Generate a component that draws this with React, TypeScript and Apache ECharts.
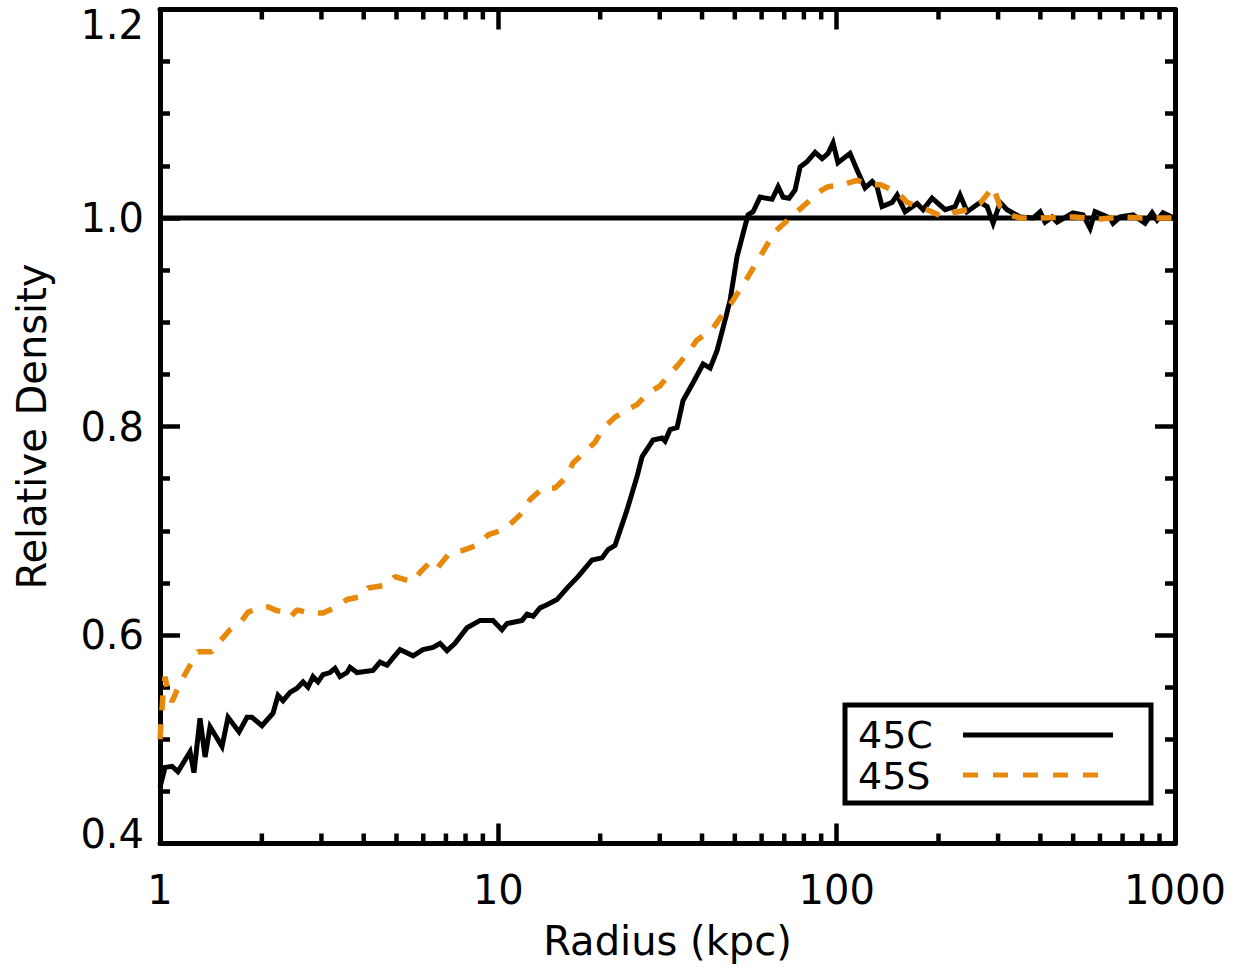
import React, { useEffect, useRef } from "react";
import * as echarts from "echarts";

const X_MIN = 1;
const X_MAX = 1000;
const Y_MIN = 0.4;
const Y_MAX = 1.2;
const Y_STEP = 0.2;

const X_TITLE = "Radius (kpc)";
const Y_TITLE = "Relative Density";
const SERIES_NAMES = ["45C", "45S"];

const MINOR_X = [2, 3, 4, 5, 6, 7, 8, 9, 20, 30, 40, 50, 60, 70, 80, 90, 200, 300, 400, 500, 600, 700, 800, 900];

const REF_LINE: [number, number][] = [[1, 1.0], [1000, 1.0]];

const S45C: [number, number][] = [
  [1.0, 0.454], [1.035, 0.473], [1.085, 0.474], [1.13, 0.469], [1.227, 0.488], [1.26, 0.468],
  [1.313, 0.52], [1.359, 0.483], [1.406, 0.512], [1.525, 0.493], [1.589, 0.521], [1.713, 0.507],
  [1.808, 0.521], [1.87, 0.521], [2.002, 0.513], [2.158, 0.525], [2.233, 0.542], [2.31, 0.537],
  [2.423, 0.545], [2.541, 0.549], [2.647, 0.555], [2.738, 0.55], [2.833, 0.56], [2.931, 0.555],
  [3.032, 0.562], [3.18, 0.564], [3.291, 0.568], [3.405, 0.56], [3.571, 0.564], [3.645, 0.569],
  [3.822, 0.564], [4.263, 0.566], [4.47, 0.574], [4.688, 0.571], [4.884, 0.578], [5.123, 0.586],
  [5.596, 0.58], [5.99, 0.586], [6.412, 0.588], [6.725, 0.592], [7.054, 0.585], [7.447, 0.592],
  [8.081, 0.607], [8.832, 0.614], [9.645, 0.614], [10.25, 0.605], [10.61, 0.611], [11.75, 0.614],
  [12.16, 0.62], [12.67, 0.618], [13.28, 0.626], [13.93, 0.629], [14.91, 0.634], [15.96, 0.645],
  [17.2, 0.656], [18.92, 0.672], [20.26, 0.674], [21.1, 0.682], [22.13, 0.686], [24.01, 0.72],
  [25.7, 0.752], [26.6, 0.771], [28.66, 0.787], [30.47, 0.789], [31.1, 0.786], [32.18, 0.797],
  [33.75, 0.799], [35.16, 0.825], [37.63, 0.842], [40.29, 0.86], [42.26, 0.856], [44.32, 0.873],
  [46.79, 0.902], [48.41, 0.921], [50.77, 0.963], [52.88, 0.985], [54.71, 1.003], [56.61, 1.006],
  [59.37, 1.02], [64.44, 1.018], [67.12, 1.03], [69.44, 1.02], [72.34, 1.019], [75.35, 1.027],
  [77.96, 1.049], [81.76, 1.054], [86.36, 1.063], [90.56, 1.057], [94.33, 1.062], [97.58, 1.072],
  [100.9, 1.053], [109.5, 1.062], [114.9, 1.046], [121.3, 1.029], [127.3, 1.035], [131.6, 1.03],
  [136.2, 1.011], [145.8, 1.015], [150.9, 1.022], [159.3, 1.006], [172.9, 1.014], [180.1, 1.008],
  [191.4, 1.019], [209.2, 1.008], [223.9, 1.011], [231.6, 1.022], [242.9, 1.006], [265.4, 1.015],
  [278.4, 1.011], [290.0, 0.995], [304.1, 1.015], [318.9, 1.008], [348.4, 1.001], [380.7, 1.0],
  [399.3, 1.006], [413.1, 0.996], [433.3, 1.001], [448.3, 0.996], [499.5, 1.005], [535.0, 1.003],
  [561.1, 0.99], [580.5, 1.006], [643.0, 1.0], [656.2, 0.995], [688.2, 1.001], [751.9, 1.003],
  [815.8, 0.995], [855.6, 1.005], [885.3, 0.998], [922.1, 1.005], [980.4, 1.001], [1000, 1.0],
];

const S45S: [number, number][] = [
  [1.0, 0.5], [1.021, 0.544], [1.035, 0.56], [1.056, 0.545], [1.085, 0.536], [1.123, 0.547],
  [1.17, 0.559], [1.227, 0.571], [1.295, 0.584], [1.424, 0.584], [1.504, 0.594], [1.61, 0.605],
  [1.747, 0.614], [1.82, 0.622], [1.975, 0.626], [2.086, 0.627], [2.187, 0.624], [2.31, 0.622],
  [2.423, 0.617], [2.541, 0.624], [2.776, 0.621], [3.032, 0.621], [3.336, 0.627], [3.571, 0.634],
  [3.955, 0.637], [4.12, 0.645], [4.688, 0.648], [4.951, 0.656], [5.558, 0.651], [5.869, 0.66],
  [6.282, 0.67], [6.589, 0.664], [7.198, 0.679], [7.812, 0.681], [8.65, 0.686], [9.323, 0.696],
  [10.33, 0.701], [10.98, 0.708], [11.83, 0.718], [12.41, 0.73], [13.56, 0.741], [14.71, 0.741],
  [15.96, 0.752], [16.63, 0.765], [18.04, 0.776], [19.32, 0.785], [20.4, 0.798], [22.13, 0.809],
  [24.01, 0.816], [25.7, 0.821], [27.71, 0.832], [30.06, 0.839], [32.18, 0.851], [33.98, 0.859],
  [36.37, 0.871], [38.67, 0.883], [42.82, 0.893], [45.21, 0.904], [49.41, 0.921], [53.62, 0.939],
  [59.37, 0.963], [65.76, 0.987], [68.96, 0.993], [76.36, 1.006], [83.42, 1.017], [90.56, 1.027],
  [94.33, 1.03], [104.4, 1.032], [114.9, 1.036], [125.5, 1.032], [134.4, 1.032], [150.9, 1.025],
  [161.5, 1.015], [172.9, 1.011], [185.1, 1.008], [206.4, 1.001], [220.9, 1.005], [242.9, 1.008],
  [265.4, 1.014], [290.0, 1.03], [304.1, 1.011], [325.4, 1.003], [348.4, 1.0], [400, 1.0],
  [500, 1.001], [600, 0.999], [700, 1.001], [800, 1.0], [1000, 1.0],
];

const BLACK = "#000000";
const ORANGE = "#E8890C";
const FONT = "DejaVu Sans";

export default function App() {
  const ref = useRef<HTMLDivElement>(null);

  useEffect(() => {
    const el = ref.current;
    if (!el) return;
    const chart = echarts.init(el, null, { renderer: "svg" });

    const axisLine = { show: true, onZero: false, lineStyle: { color: BLACK, width: 5 } };
    const tickStyle = { color: BLACK, width: 4.5 };

    const xBase = {
      type: "log",
      logBase: 10,
      min: X_MIN,
      max: X_MAX,
      axisLine,
      axisTick: { show: true, inside: true, length: 20, lineStyle: tickStyle },
      splitLine: { show: false },
      minorTick: { show: false },
      minorSplitLine: { show: false },
    };
    const yBase = {
      type: "value",
      min: Y_MIN,
      max: Y_MAX,
      interval: Y_STEP,
      axisLine,
      axisTick: { show: true, inside: true, length: 20, lineStyle: tickStyle },
      minorTick: { show: true, splitNumber: 4, length: 10, lineStyle: tickStyle },
      splitLine: { show: false },
      minorSplitLine: { show: false },
    };

    const legendX = 845;
    const legendY = 705;
    const labelText = { fontFamily: FONT, fontSize: 40, color: BLACK };

    chart.setOption({
      animation: false,
      backgroundColor: "#ffffff",
      grid: {
        left: 160,
        top: 9.5,
        right: 69,
        bottom: 129.5,
        containLabel: false,
        outerBoundsMode: "none",
      },
      xAxis: [
        {
          ...xBase,
          position: "bottom",
          name: X_TITLE,
          nameLocation: "middle",
          nameGap: 77,
          nameTextStyle: { fontFamily: FONT, fontSize: 40, color: BLACK },
          axisLabel: {
            show: true,
            margin: 26,
            ...labelText,
            showMinLabel: true,
            showMaxLabel: true,
            formatter: (v: number) => String(Math.round(v)),
          },
        },
        {
          ...xBase,
          position: "top",
          axisLabel: { show: false },
        },
      ],
      yAxis: [
        {
          ...yBase,
          position: "left",
          name: Y_TITLE,
          nameLocation: "middle",
          nameGap: 108,
          nameTextStyle: { fontFamily: FONT, fontSize: 40, color: BLACK },
          axisLabel: {
            show: true,
            margin: 16,
            ...labelText,
            showMinLabel: true,
            showMaxLabel: true,
            formatter: (v: number) => {
              const s = v.toFixed(1);
              if (Math.abs(v - Y_MAX) < 1e-6) return "{hi|" + s + "}";
              if (Math.abs(v - Y_MIN) < 1e-6) return "{lo|" + s + "}";
              return s;
            },
            rich: {
              hi: { ...labelText, padding: [30, 0, 0, 0] },
              lo: { ...labelText, padding: [0, 0, 20, 0] },
            },
          },
        },
        {
          ...yBase,
          position: "right",
          axisLabel: { show: false },
        },
      ],
      series: [
        {
          type: "line",
          name: "ref",
          data: REF_LINE,
          symbol: "none",
          lineStyle: { color: BLACK, width: 5 },
          z: 2,
        },
        {
          type: "line",
          name: SERIES_NAMES[0],
          data: S45C,
          symbol: "none",
          lineStyle: { color: BLACK, width: 5, join: "miter" },
          z: 3,
        },
        {
          type: "line",
          name: SERIES_NAMES[1],
          data: S45S,
          symbol: "none",
          lineStyle: { color: ORANGE, width: 5.5, type: [15, 14] },
          z: 4,
        },
        {
          type: "custom",
          name: "minorTicks",
          xAxisIndex: 0,
          yAxisIndex: 0,
          silent: true,
          clip: false,
          z: 6,
          data: MINOR_X.map((v) => [v, Y_MIN]),
          encode: { x: 0, y: 1 },
          renderItem: (_params: any, api: any) => {
            const v = api.value(0);
            const b = api.coord([v, Y_MIN]);
            const t = api.coord([v, Y_MAX]);
            const style = { stroke: BLACK, lineWidth: 4.5 };
            return {
              type: "group",
              children: [
                { type: "line", shape: { x1: b[0], y1: b[1], x2: b[0], y2: b[1] - 10 }, style },
                { type: "line", shape: { x1: t[0], y1: t[1], x2: t[0], y2: t[1] + 10 }, style },
              ],
            };
          },
        },
      ],
      graphic: [
        {
          type: "rect",
          z: 100,
          shape: { x: legendX, y: legendY, width: 306, height: 98 },
          style: { fill: "#ffffff", stroke: BLACK, lineWidth: 5 },
        },
        {
          type: "text",
          z: 101,
          x: legendX + 13,
          y: legendY + 30,
          style: {
            text: SERIES_NAMES[0],
            fontFamily: FONT,
            fontSize: 38,
            fill: BLACK,
            verticalAlign: "middle",
          },
        },
        {
          type: "text",
          z: 101,
          x: legendX + 13,
          y: legendY + 71,
          style: {
            text: SERIES_NAMES[1],
            fontFamily: FONT,
            fontSize: 38,
            fill: BLACK,
            verticalAlign: "middle",
          },
        },
        {
          type: "line",
          z: 101,
          shape: { x1: legendX + 118, y1: legendY + 30, x2: legendX + 268, y2: legendY + 30 },
          style: { stroke: BLACK, lineWidth: 5 },
        },
        {
          type: "line",
          z: 101,
          shape: { x1: legendX + 118, y1: legendY + 70, x2: legendX + 268, y2: legendY + 70 },
          style: { stroke: ORANGE, lineWidth: 5, lineDash: [15, 15] },
        },
      ],
    });

    return () => {
      chart.dispose();
    };
  }, []);

  return (
    <div
      ref={ref}
      style={{ position: "absolute", left: 0, top: 0, width: 1244, height: 973, background: "#fff" }}
    />
  );
}
